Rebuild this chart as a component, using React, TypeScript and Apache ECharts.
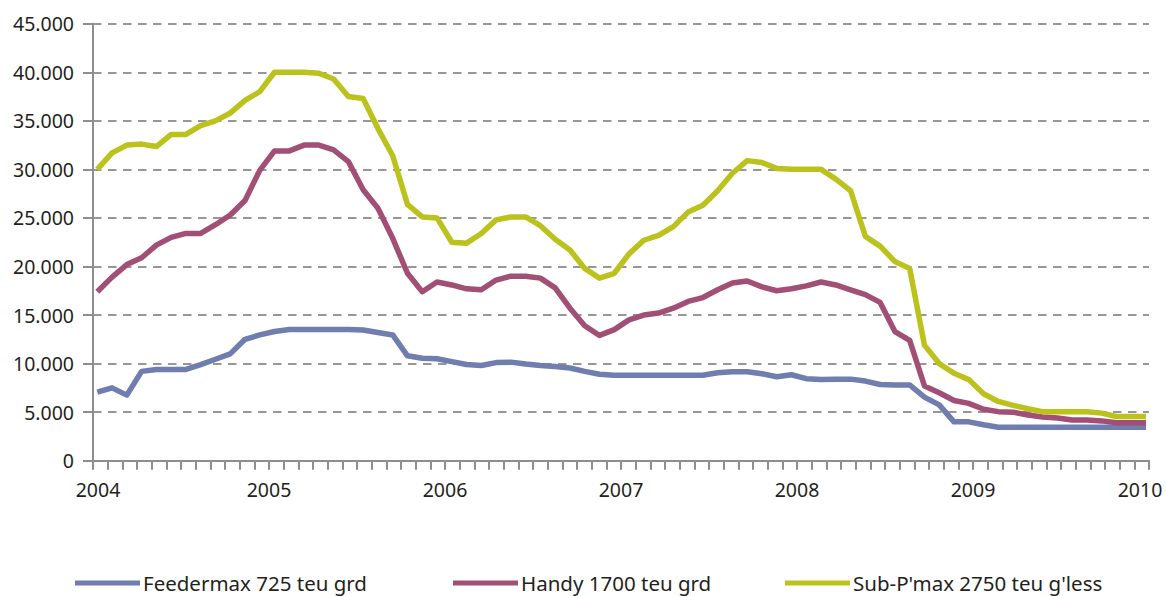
import { useEffect, useRef } from 'react';
import * as echarts from 'echarts';

const years = ['2004', '2005', '2006', '2007', '2008', '2009', '2010'];
const seriesNames = ['Feedermax 725 teu grd', 'Handy 1700 teu grd', "Sub-P'max 2750 teu g'less"];
const seriesColors = ['#6F7DAF', '#A24F75', '#BCC21C'];

const feedermax = [
  7050, 7500, 6750, 9200, 9400, 9400, 9400, 9900, 10450, 11000, 12500, 12950,
  13300, 13500, 13500, 13500, 13500, 13500, 13450, 13200, 12950, 10800, 10550, 10500,
  10200, 9900, 9800, 10100, 10150, 9950, 9800, 9700, 9550, 9200, 8900, 8800,
  8800, 8800, 8800, 8800, 8800, 8800, 9050, 9150, 9150, 8950, 8650, 8850,
  8450, 8350, 8400, 8400, 8200, 7850, 7800, 7800, 6550, 5750, 4000, 4000,
  3700, 3450, 3450, 3450, 3450, 3450, 3450, 3450, 3450, 3450, 3450, 3450,
];
const handy = [
  17400, 18900, 20200, 20900, 22200, 23000, 23400, 23400, 24300, 25300, 26800, 29900,
  31900, 31900, 32500, 32500, 32000, 30800, 27900, 26000, 22900, 19300, 17400, 18400,
  18100, 17700, 17600, 18600, 19000, 19000, 18800, 17800, 15700, 13900, 12900, 13500,
  14500, 15000, 15200, 15700, 16400, 16800, 17600, 18300, 18500, 17900, 17500, 17700,
  18000, 18400, 18100, 17600, 17100, 16300, 13300, 12400, 7700, 7000, 6200, 5900,
  5300, 5050, 5000, 4700, 4500, 4400, 4200, 4200, 4100, 3900, 3900, 3900,
];
const subPanamax = [
  30000, 31700, 32500, 32600, 32350, 33600, 33600, 34500, 35000, 35800, 37100, 38000,
  40000, 40000, 40000, 39900, 39300, 37500, 37300, 34200, 31400, 26400, 25100, 25000,
  22500, 22400, 23400, 24800, 25100, 25100, 24200, 22800, 21700, 19800, 18800, 19300,
  21300, 22700, 23200, 24100, 25600, 26300, 27800, 29600, 30900, 30700, 30100, 30000,
  30000, 30000, 29000, 27800, 23100, 22100, 20500, 19800, 11900, 10000, 9000, 8350,
  6900, 6100, 5700, 5350, 5050, 5050, 5050, 5050, 4900, 4550, 4550, 4550,
];

const monthCategories: string[] = [];
years.slice(0, 6).forEach((y) => {
  for (let m = 1; m <= 12; m++) monthCategories.push(`${y}-${m}`);
});

const FONT = "'Noto Sans', 'DejaVu Sans', sans-serif";
const TEXT = '#231f20';
const AXIS = '#8e8e8e';

function fmtThousands(v: number): string {
  if (v === 0) return '0';
  const th = Math.floor(v / 1000);
  const rest = String(v % 1000).padStart(3, '0');
  return `${th}.${rest}`;
}

export default function App() {
  const ref = useRef<HTMLDivElement>(null);
  useEffect(() => {
    const chart = echarts.init(ref.current!, null, { renderer: 'svg' });
    const allData = [feedermax, handy, subPanamax];
    chart.setOption({
      animation: false,
      backgroundColor: '#ffffff',
      grid: [
        { left: 93, right: 17, top: 23.7, bottom: 135.3 },
        { left: 97.3, right: 20, top: 23.7, bottom: 135.3 },
      ],
      xAxis: [
        {
          gridIndex: 0,
          type: 'value',
          min: 0,
          max: 72,
          interval: 12,
          axisLine: { show: true, lineStyle: { color: AXIS, width: 2 } },
          axisTick: { show: true, length: 9, lineStyle: { color: AXIS, width: 2 } },
          minorTick: { show: true, splitNumber: 12, length: 9, lineStyle: { color: AXIS, width: 2 } },
          splitLine: { show: false },
          minorSplitLine: { show: false },
          axisLabel: {
            margin: 19,
            color: TEXT,
            fontFamily: FONT,
            fontSize: 19.5,
            formatter: (v: number) => {
              const idx = Math.round(v / 12);
              const label = years[idx];
              if (idx === 0) return `{first|${label}}`;
              if (idx === years.length - 1) return `{last|${label}}`;
              return `{mid|${label}}`;
            },
            rich: {
              first: { padding: [0, 0, 0, 10], fontFamily: FONT, fontSize: 19.5, color: TEXT },
              last: { padding: [0, 18, 0, 0], fontFamily: FONT, fontSize: 19.5, color: TEXT },
              mid: { fontFamily: FONT, fontSize: 19.5, color: TEXT },
            },
          },
        },
        {
          gridIndex: 1,
          type: 'category',
          data: monthCategories,
          boundaryGap: false,
          show: false,
        },
      ],
      yAxis: [
        {
          gridIndex: 0,
          type: 'value',
          min: 0,
          max: 45000,
          interval: 5000,
          axisLine: { show: true, lineStyle: { color: AXIS, width: 2 } },
          axisTick: { show: true, length: 10, lineStyle: { color: AXIS, width: 2 } },
          splitLine: { show: true, lineStyle: { color: '#979797', width: 2.2, type: [8.5, 6.5] } },
          axisLabel: {
            margin: 19,
            color: TEXT,
            fontFamily: FONT,
            fontSize: 19.5,
            formatter: (v: number) => fmtThousands(v),
          },
        },
        {
          gridIndex: 1,
          type: 'value',
          min: 0,
          max: 45000,
          show: false,
        },
      ],
      legend: [0, 1, 2].map((i) => ({
        data: [seriesNames[i]],
        left: [75, 453, 785][i],
        top: 571,
        padding: 0,
        icon: 'rect',
        itemWidth: 65,
        itemHeight: 5,
        textStyle: { color: TEXT, fontFamily: FONT, fontSize: 20.5, lineHeight: 24, padding: [0, 0, 0, -2] },
      })),
      series: [0, 1, 2].map((i) => ({
        name: seriesNames[i],
        type: 'line',
        xAxisIndex: 1,
        yAxisIndex: 1,
        data: allData[i],
        symbol: 'none',
        lineStyle: { width: 5.5, color: seriesColors[i], join: 'round', cap: 'butt' },
        itemStyle: { color: seriesColors[i] },
        z: 3 + i,
      })),
    });
    return () => chart.dispose();
  }, []);
  return (
    <div
      ref={ref}
      style={{ position: 'fixed', left: 0, top: 0, width: 1166, height: 596, background: '#fff' }}
    />
  );
}
